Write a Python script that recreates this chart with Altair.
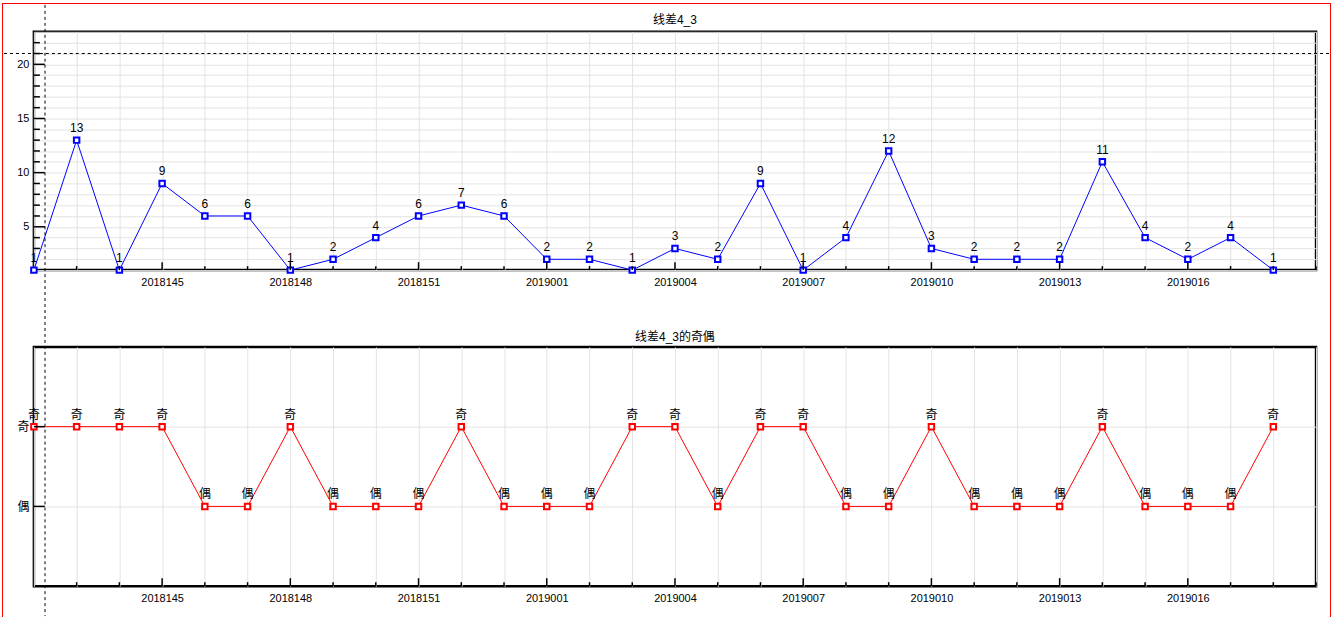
import altair as alt
import pandas as pd

# ---------------- data ----------------
periods = ["2018142", "2018143", "2018144", "2018145", "2018146", "2018147",
           "2018148", "2018149", "2018150", "2018151", "2018152", "2018153",
           "2019001", "2019002", "2019003", "2019004", "2019005", "2019006",
           "2019007", "2019008", "2019009", "2019010", "2019011", "2019012",
           "2019013", "2019014", "2019015", "2019016", "2019017", "2019018"]
values = [1, 13, 1, 9, 6, 6, 1, 2, 4, 6, 7, 6, 2, 2, 1, 3, 2, 9, 1, 4,
          12, 3, 2, 2, 2, 11, 4, 2, 4, 1]
parity = ["奇", "奇", "奇", "奇", "偶", "偶", "奇", "偶", "偶", "偶",
          "奇", "偶", "偶", "偶", "奇", "奇", "偶", "奇", "奇", "偶",
          "偶", "奇", "偶", "偶", "偶", "奇", "偶", "偶", "偶", "奇"]
x_tick_labels = ["2018145", "2018148", "2018151", "2019001", "2019004",
                 "2019007", "2019010", "2019013", "2019016"]
y_tick_labels = [5, 10, 15, 20]
parity_levels = ["偶", "奇"]          # plotted at 0 and 1
title_top = "线差4_3"
title_bottom = "线差4_3的奇偶"
cursor_x = 0.26                     # crosshair position (x index units)
cursor_y = 21                       # crosshair position (top value units)

# ---------------- derived tables ----------------
n = len(periods)
df = pd.DataFrame({
    "i": list(range(n)),
    "period": periods,
    "v": values,
    "p": parity,
    "pn": [parity_levels.index(p) for p in parity],
})
label_idx = [periods.index(s) for s in x_tick_labels]
x_ticks = pd.DataFrame({"i": list(range(1, n + 1))})
x_ticks["major"] = x_ticks["i"].isin(label_idx)
y_ticks_top = pd.DataFrame({"v": list(range(3, 23))})
y_ticks_top["major"] = y_ticks_top["v"].isin(y_tick_labels)
y_ticks_bot = pd.DataFrame({"pn": [0, 1]})
cursor = pd.DataFrame({"i": [cursor_x], "v": [cursor_y]})
titles_top = pd.DataFrame({"t": [title_top]})
titles_bot = pd.DataFrame({"t": [title_bottom]})

FONT = "Liberation Sans, Noto Sans CJK SC, sans-serif"
W, H1, H2 = 1286, 239, 240
GRID = "#e3e3e3"
L, T = 32, 29                 # page space left of / above the top plot
PW, PH = 1333, 617            # page size

lab_arr = ["'" + (periods[k] if k in label_idx else "") + "'" for k in range(n)] + ["''"]
x_label_expr = "[" + ",".join(lab_arr) + "][datum.value]"

x_axis = alt.Axis(values=list(range(n + 1)), labelExpr=x_label_expr,
                  grid=True, gridColor=GRID, ticks=False, domain=False,
                  labelPadding=6, labelFontSize=11, title=None,
                  labelOverlap=False, labelFlush=False)
x_scale = alt.Scale(domain=[0, n], nice=False, zero=False)
x_enc = alt.X("i:Q", scale=x_scale, axis=x_axis)

# ---------------- top panel ----------------
y_axis_top = alt.Axis(values=list(range(1, 24)),
                      labelExpr="indexof(" + str(y_tick_labels) + ", datum.value) >= 0 ? datum.label : ''",
                      grid=True, gridColor=GRID, ticks=False, domain=False,
                      labelPadding=5, labelFontSize=11, title=None,
                      labelOverlap=False, labelFlush=False)
y_scale_top = alt.Scale(domain=[1, 23], nice=False, zero=False)
y_top = alt.Y("v:Q", scale=y_scale_top, axis=y_axis_top)

base_top = alt.Chart(df)
line_top = base_top.mark_line(color="#0000ff", strokeWidth=1).encode(x=x_enc, y=y_top)
pts_top = base_top.mark_point(shape="square", filled=True, fill="white", stroke="#0000ff",
                              strokeWidth=2, size=30, opacity=1).encode(x=x_enc, y=y_top)
txt_top = base_top.mark_text(font=FONT, fontSize=12, color="black", baseline="alphabetic",
                             dy=-8).encode(x=x_enc, y=y_top, text="v:Q")

xt_min = alt.Chart(x_ticks).transform_filter("!datum.major").mark_rule(color="black", strokeWidth=1.5).encode(
    x=x_enc, y=alt.value(H1), y2=alt.value(H1 - 4))
xt_maj = alt.Chart(x_ticks).transform_filter("datum.major").mark_rule(color="black", strokeWidth=1.5).encode(
    x=x_enc, y=alt.value(H1), y2=alt.value(H1 - 8))
yt_min = alt.Chart(y_ticks_top).transform_filter("!datum.major").mark_rule(color="black", strokeWidth=1.5).encode(
    y=y_top, x=alt.value(0), x2=alt.value(6))
yt_maj = alt.Chart(y_ticks_top).transform_filter("datum.major").mark_rule(color="black", strokeWidth=1.5).encode(
    y=y_top, x=alt.value(0), x2=alt.value(11))

cur_v = alt.Chart(cursor).mark_rule(color="black", strokeWidth=1, strokeDash=[3, 3]).encode(
    x=x_enc, y=alt.value(-T + 2), y2=alt.value(PH - T - 2))
cur_h = alt.Chart(cursor).mark_rule(color="black", strokeWidth=1, strokeDash=[3, 3]).encode(
    y=y_top, x=alt.value(-L + 2), x2=alt.value(PW - L - 2))


def border(x1, x2, y1, y2):
    # page border drawn as a thin filled band (fills have exact bounds)
    return alt.Chart(cursor).mark_rect(color="#ff0000", strokeWidth=0).encode(
        x=alt.value(x1), x2=alt.value(x2), y=alt.value(y1), y2=alt.value(y2))


frame = [
    border(-L, -L + 1, -T, PH - T),
    border(PW - L - 1, PW - L, -T, PH - T),
    border(-L, PW - L, -T, -T + 1),
    border(-L, PW - L, PH - T - 1, PH - T),
]
ttl_top = alt.Chart(titles_top).mark_text(font=FONT, fontSize=12, color="black",
                                          baseline="middle", align="center").encode(
    text="t:N", x=alt.value(W / 2), y=alt.value(-12))

top = alt.layer(line_top, pts_top, txt_top, xt_min, xt_maj, yt_min, yt_maj,
                cur_v, cur_h, *frame, ttl_top).properties(width=W, height=H1)

# ---------------- bottom panel ----------------
y_axis_bot = alt.Axis(values=[0, 1],
                      labelExpr="['" + "','".join(parity_levels) + "'][datum.value]",
                      grid=True, gridColor=GRID, ticks=False, domain=False,
                      labelPadding=5, labelFontSize=12, title=None,
                      labelOverlap=False, labelFlush=False)
y_bot = alt.Y("pn:Q", scale=alt.Scale(domain=[-1, 2], nice=False, zero=False), axis=y_axis_bot)

base_bot = alt.Chart(df)
line_bot = base_bot.mark_line(color="#ff0000", strokeWidth=1).encode(x=x_enc, y=y_bot)
pts_bot = base_bot.mark_point(shape="square", filled=True, fill="white", stroke="#ff0000",
                              strokeWidth=2, size=30, opacity=1).encode(x=x_enc, y=y_bot)
txt_bot = base_bot.mark_text(font=FONT, fontSize=12, color="black", baseline="alphabetic",
                             dy=-8).encode(x=x_enc, y=y_bot, text="p:N")
xb_min = alt.Chart(x_ticks).transform_filter("!datum.major").mark_rule(color="black", strokeWidth=1.5).encode(
    x=x_enc, y=alt.value(H2), y2=alt.value(H2 - 4))
xb_maj = alt.Chart(x_ticks).transform_filter("datum.major").mark_rule(color="black", strokeWidth=1.5).encode(
    x=x_enc, y=alt.value(H2), y2=alt.value(H2 - 8))
yb_t = alt.Chart(y_ticks_bot).mark_rule(color="black", strokeWidth=1.5).encode(
    y=y_bot, x=alt.value(0), x2=alt.value(11))
ttl_bot = alt.Chart(titles_bot).mark_text(font=FONT, fontSize=12, color="black",
                                          baseline="middle", align="center").encode(
    text="t:N", x=alt.value(W / 2), y=alt.value(-10))

bottom = alt.layer(line_bot, pts_bot, txt_bot, xb_min, xb_maj, yb_t, ttl_bot).properties(
    width=W, height=H2)

chart = alt.vconcat(top, bottom, spacing=77, bounds="flush").properties(
    padding=0, background="white"
).configure_view(stroke="black", strokeWidth=2.5).configure_axis(
    labelFont=FONT, labelColor="black"
)

chart.save("out.html", embed_options={"renderer": "svg", "actions": False})
